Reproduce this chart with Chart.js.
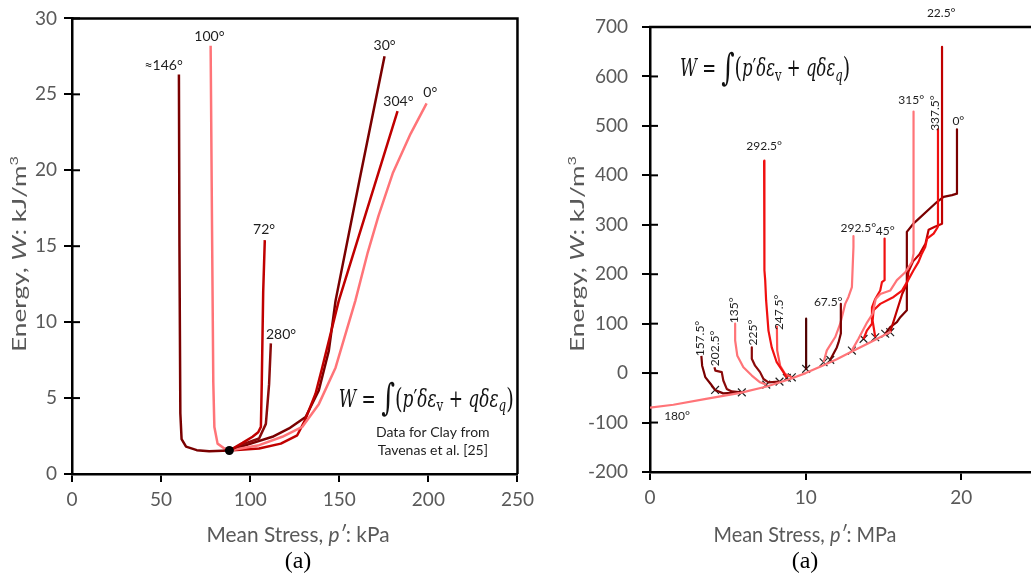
<!DOCTYPE html>
<html>
<head>
<meta charset="utf-8">
<script src="https://cdn.jsdelivr.net/npm/chart.js@4.4.0/dist/chart.umd.min.js"></script>
<style>
html, body { margin:0; padding:0; background:#fff; overflow:hidden; width:1031px; height:577px; }
#wrapA { position:absolute; left:0; top:0; width:540px; height:577px; }
#wrapB { position:absolute; left:560px; top:0; width:580px; height:577px; }
</style>
</head>
<body>
<div id="wrapA"><canvas id="clay" width="540" height="577"></canvas></div>
<div id="wrapB"><canvas id="sand" width="580" height="577"></canvas></div>
<script>
// ---- (a) left: clay, p' in kPa, W in kJ/m3
var clay146X = [88.3, 77, 70, 64, 61.5, 60.8, 60.3, 60.0];
var clay146Y = [1.55, 1.5, 1.57, 1.8, 2.3, 4, 15, 26.3];
var clay100X = [88.3, 85.5, 81.7, 79.9, 79.3, 78.6, 77.8];
var clay100Y = [1.55, 1.68, 2.0, 3.1, 6, 16, 28.2];
var clay72X = [88.3, 95.7, 101.3, 104.5, 106, 106.5, 107.3, 108.2];
var clay72Y = [1.55, 2.05, 2.45, 2.75, 3.1, 6, 12, 15.4];
var clay280X = [88.3, 95.7, 105, 108.8, 110.6, 111.6];
var clay280Y = [1.55, 1.95, 2.34, 3.3, 5.9, 8.6];
var clay30X = [88.3, 100.3, 112.5, 121.8, 131.1, 138.5, 144.1, 147.9, 161.6, 175.4];
var clay30Y = [1.55, 2.0, 2.45, 3.0, 3.75, 5.5, 8.1, 11.4, 19.5, 27.5];
var clay304X = [88.3, 105, 117.2, 126.4, 131, 136.7, 140.4, 149.7, 182.7];
var clay304Y = [1.55, 1.68, 2.0, 2.55, 3.6, 5.3, 7.0, 11.4, 23.9];
var clay0X = [88.3, 105, 118, 129.2, 138.5, 147.9, 159, 166, 172, 180, 190, 199];
var clay0Y = [1.55, 1.9, 2.45, 3.1, 4.6, 7.0, 11.4, 14.6, 17.0, 19.8, 22.4, 24.4];
var clayStartX = [88.3];
var clayStartY = [1.55];

var clayTagText = ['≈146°', '100°', '30°', '304°', '0°', '72°', '280°'];
var clayTagX = [51.4, 77.1, 175.4, 183.2, 201.1, 107.8, 117.3];
var clayTagY = [26.9, 28.8, 28.2, 24.5, 25.1, 16.1, 9.2];

// ---- (a) right: sand, p' in MPa, W in kJ/m3
var sand180X = [0, 1.5, 3.6, 5.8, 7.5, 9.0, 10.0, 11.0, 12.0, 13.0, 14.0, 15.0, 15.5];
var sand180Y = [-70, -64, -52, -40, -27, -12, 0, 14, 28, 44, 60, 76, 84];
var sand157X = [3.3, 3.35, 3.55, 3.9, 4.18, 4.7, 5.9];
var sand157Y = [35, 15, -8, -22, -34, -41, -39];
var sand202X = [4.14, 4.2, 4.61, 4.71, 4.93, 5.25, 5.9];
var sand202Y = [12, 5, 2, -15, -32, -37, -39];
var sand135X = [5.47, 5.47, 5.61, 6.0, 6.54, 7.07, 7.47];
var sand135Y = [100, 66, 35, 12, -5, -18.6, -23.3];
var sand225X = [6.54, 6.54, 6.75, 7.07, 7.29, 7.61, 8.32];
var sand225Y = [52, 29, 15, 2, -12, -18.6, -17.2];
var sand292aX = [7.33, 7.35, 7.40, 7.46, 7.61, 7.82, 8.14, 8.57, 8.79];
var sand292aY = [430, 208, 188, 147, 86, 52, 22, 2, -9.7];
var sand247X = [8.15, 8.17, 8.36, 8.68, 9.11];
var sand247Y = [96, 46, 15, -2, -8.5];
var sandMidX = [10.03, 10.03];
var sandMidY = [110, 8.5];
var sand67X = [12.26, 12.26, 12.11, 12.0, 11.58];
var sand67Y = [140, 80, 62, 52, 27];
var sand292bX = [13.07, 13.07, 12.97, 12.75, 12.54, 12.22, 11.9, 11.36, 11.15];
var sand292bY = [277, 255, 174, 154, 140, 100, 73, 46, 22];
var sand45X = [15.07, 15.07, 14.9, 14.79, 14.47, 14.26, 14.26, 13.93, 13.72];
var sand45Y = [272, 188, 184, 167, 150, 133, 100, 86, 69];
var sand315X = [16.93, 16.93, 16.83, 16.4, 15.86, 15.43, 14.8, 14.5, 14.3, 13.9, 13.4, 12.97];
var sand315Y = [529, 242, 225, 204, 188, 167, 160, 150, 120, 100, 70, 46];
var sand337X = [18.5, 18.5, 18.22, 17.8, 17.68, 17.47, 17.25, 16.93, 16.51, 16.19, 15.65, 14.79, 14.36, 14.3, 14.47];
var sand337Y = [493, 296, 282, 272, 255, 242, 225, 208, 184, 167, 154, 140, 127, 106, 72.6];
var sand22X = [18.76, 18.76, 18.3, 17.9, 17.7, 17.3, 16.9, 16.6, 16.5, 16.2, 15.8, 15.43];
var sand22Y = [660, 302, 296, 290, 262, 240, 226, 205, 180, 160, 120, 83];
var sand0X = [19.72, 19.72, 19.4, 18.86, 18.43, 17.15, 16.93, 16.5, 16.5, 16.08, 15.86, 15.43, 15.11];
var sand0Y = [493, 363, 360, 356.5, 346, 309, 302.6, 285.6, 127, 113, 103, 93, 79.5];
var sandMarkX = [4.18, 5.9, 7.47, 8.32, 8.79, 9.11, 10.03, 11.15, 11.58, 12.97, 13.72, 14.47, 15.11, 15.43];
var sandMarkY = [-34, -39, -23.3, -17.2, -9.7, -8.5, 8.5, 22, 26.8, 45.6, 69.3, 72.6, 79.5, 82.8];

var sandTagText = ['22.5°', '315°', '337.5°', '0°', '292.5°', '292.5°', '45°', '67.5°', '157.5°', '202.5°', '135°', '225°', '247.5°', '180°'];
var sandTagX = [18.71, 16.78, 18.33, 19.81, 7.33, 13.38, 15.11, 11.45, 3.22, 4.18, 5.4, 6.62, 8.3, 1.74];
var sandTagY = [729, 552, 526, 510, 459, 293, 287, 143, 70, 50, 127, 82, 123, -88];
var sandTagTurn = [0, 0, 1, 0, 0, 0, 0, 0, 1, 1, 1, 1, 1, 0];

var DARK = '#7a0000', MAROON = '#8b0a0a', RED = '#c00000', BRIGHT = '#f01010', SALMON = '#ff7478';

function pts(xs, ys) {
  return xs.map(function (v, i) { return { x: v, y: ys[i] }; });
}
function line(xs, ys, col, w) {
  return { data: pts(xs, ys), borderColor: col, backgroundColor: col, borderWidth: w || 2.5,
           showLine: true, pointRadius: 0, tension: 0, fill: false, borderJoinStyle: 'round' };
}

// draw a run of rich text (italics, sub/superscripts)
function runsWidth(ctx, runs, size, fam) {
  var w = 0;
  runs.forEach(function (r) {
    var s = size * (r.scale || 1);
    ctx.font = (r.it ? 'italic ' : '') + s + 'px ' + fam;
    w += ctx.measureText(r.t).width;
  });
  return w;
}
function drawRuns(ctx, runs, cx, cy, size, fam, target, angle, align) {
  ctx.save();
  ctx.translate(cx, cy);
  if (angle) ctx.rotate(angle);
  var w = runsWidth(ctx, runs, size, fam);
  var k = target ? target / w : 1;
  ctx.scale(k, 1);
  var x = align === 'left' ? 0 : -w / 2;
  ctx.textBaseline = 'middle';
  ctx.textAlign = 'left';
  runs.forEach(function (r) {
    var s = size * (r.scale || 1);
    ctx.font = (r.it ? 'italic ' : '') + s + 'px ' + fam;
    ctx.fillText(r.t, x, r.dy ? r.dy * size : 0);
    x += ctx.measureText(r.t).width;
  });
  ctx.restore();
}

var energyRuns = [{ t: 'Energy, ' }, { t: 'W', it: true }, { t: ': kJ/m' }, { t: '3', scale: 0.62, dy: -0.33 }];
var eqRuns = [
  { t: 'W', it: true }, { t: ' = ' }, { t: '\u222B', scale: 1.55 }, { t: '(', scale: 1.15 },
  { t: 'p', it: true }, { t: '\u2032' }, { t: '\u03B4\u03B5', it: true }, { t: 'v', scale: 0.7, dy: 0.28 },
  { t: ' + ' }, { t: 'q\u03B4\u03B5', it: true }, { t: 'q', it: true, scale: 0.7, dy: 0.28 }, { t: ')', scale: 1.15 }
];

function frameAndText(opts) {
  return {
    id: 'frameText',
    afterDraw: function (chart) {
      var ctx = chart.ctx, a = chart.chartArea, xs = chart.scales.x, ys = chart.scales.y;
      ctx.save();
      ctx.strokeStyle = '#000';
      ctx.lineWidth = 2.5;
      ctx.beginPath();
      ctx.moveTo(a.left - 1, a.top);
      ctx.lineTo(a.right, a.top);
      ctx.lineTo(a.right, a.bottom);
      ctx.stroke();
      // inner half of the y ticks
      ctx.lineWidth = 2;
      ys.ticks.forEach(function (t) {
        var py = ys.getPixelForValue(t.value);
        ctx.beginPath();
        ctx.moveTo(a.left, py);
        ctx.lineTo(a.left + 8, py);
        ctx.stroke();
      });
      // curve tags
      ctx.fillStyle = '#1e1e1e';
      for (var i = 0; i < opts.tagText.length; i++) {
        var px = xs.getPixelForValue(opts.tagX[i]);
        var py2 = ys.getPixelForValue(opts.tagY[i]);
        ctx.save();
        ctx.translate(px, py2);
        if (opts.tagTurn && opts.tagTurn[i]) ctx.rotate(-Math.PI / 2);
        ctx.font = opts.tagSize + 'px Lato';
        ctx.textAlign = 'center';
        ctx.textBaseline = 'middle';
        ctx.fillText(opts.tagText[i], 0, 0);
        ctx.restore();
      }
      // equation
      ctx.fillStyle = '#111';
      drawRuns(ctx, eqRuns, xs.getPixelForValue(opts.eqX), ys.getPixelForValue(opts.eqY),
               24, '"DejaVu Serif"', opts.eqW, 0, 'left');
      if (opts.note) {
        ctx.font = '14px Lato';
        ctx.textAlign = 'center';
        ctx.textBaseline = 'middle';
        ctx.fillStyle = '#1e1e1e';
        ctx.fillText(opts.note[0], xs.getPixelForValue(opts.noteX), ys.getPixelForValue(opts.noteY[0]));
        ctx.fillText(opts.note[1], xs.getPixelForValue(opts.noteX), ys.getPixelForValue(opts.noteY[1]));
      }
      // axis titles
      ctx.fillStyle = '#595959';
      drawRuns(ctx, [{ t: 'Mean Stress, ' }, { t: 'p\u2032', it: true }, { t: ': ' + opts.unit }],
               opts.titleX, 535, 21, 'Lato', 183, 0);
      drawRuns(ctx, energyRuns, opts.yTitleX, 254, 19, 'Lato', 196, -Math.PI / 2);
      ctx.fillStyle = '#000';
      drawRuns(ctx, [{ t: '(a)' }], opts.titleX, 562, 24, '"Liberation Serif"', 0, 0);
      if (opts.dots) {
        ctx.fillStyle = '#000';
        ctx.beginPath();
        ctx.arc(xs.getPixelForValue(opts.dots[0]), ys.getPixelForValue(opts.dots[1]), 4.5, 0, Math.PI * 2);
        ctx.fill();
      }
      ctx.restore();
    }
  };
}

function axes(xmin, xmax, xstep, ymin, ymax, ystep, yWidth, xHeight, yPad) {
  var tickFont = { family: 'Lato', size: 19 };
  return {
    x: { type: 'linear', min: xmin, max: xmax,
         ticks: { stepSize: xstep, color: '#595959', font: tickFont, padding: 6, maxRotation: 0 },
         grid: { drawOnChartArea: false, color: '#000', lineWidth: 2, tickLength: 8 },
         border: { color: '#000', width: 2.5 },
         afterFit: function (s) { s.height = xHeight; } },
    y: { type: 'linear', min: ymin, max: ymax,
         ticks: { stepSize: ystep, color: '#595959', font: tickFont, padding: yPad },
         grid: { drawOnChartArea: false, color: '#000', lineWidth: 2, tickLength: 8 },
         border: { color: '#000', width: 2.5 },
         afterFit: function (s) { s.width = yWidth; } }
  };
}

var common = {
  responsive: false, animation: false, devicePixelRatio: 1,
  plugins: { legend: { display: false }, tooltip: { enabled: false } }
};

new Chart(document.getElementById('clay'), {
  type: 'scatter',
  data: { datasets: [
    line(clay146X, clay146Y, DARK),
    line(clay100X, clay100Y, SALMON),
    line(clay72X, clay72Y, RED),
    line(clay280X, clay280Y, MAROON),
    line(clay0X, clay0Y, SALMON),
    line(clay304X, clay304Y, RED),
    line(clay30X, clay30Y, DARK)
  ] },
  options: Object.assign({}, common, {
    layout: { padding: { left: 0, top: 16, right: 20, bottom: 0 } },
    scales: axes(0, 250, 50, 0, 30, 5, 72, 103, 7)
  }),
  plugins: [frameAndText({
    tagText: clayTagText, tagX: clayTagX, tagY: clayTagY, tagSize: 14,
    eqX: 149.7, eqY: 4.85, eqW: 175,
    note: ['Data for Clay from', 'Tavenas et al. [25]'], noteX: 202.5, noteY: [2.75, 1.57],
    unit: 'kPa', titleX: 298, yTitleX: 20,
    dots: [clayStartX[0], clayStartY[0]]
  })]
});

new Chart(document.getElementById('sand'), {
  type: 'scatter',
  data: { datasets: [
    line(sand180X, sand180Y, SALMON, 2.2),
    line(sand157X, sand157Y, DARK, 2.2),
    line(sand202X, sand202Y, MAROON, 2.2),
    line(sand135X, sand135Y, SALMON, 2.2),
    line(sand225X, sand225Y, MAROON, 2.2),
    line(sand292aX, sand292aY, BRIGHT, 2.2),
    line(sand247X, sand247Y, '#ff5050', 2.2),
    line(sandMidX, sandMidY, '#500000', 2.2),
    line(sand67X, sand67Y, DARK, 2.2),
    line(sand292bX, sand292bY, SALMON, 2.2),
    line(sand315X, sand315Y, SALMON, 2.2),
    line(sand45X, sand45Y, BRIGHT, 2.2),
    line(sand337X, sand337Y, BRIGHT, 2.2),
    line(sand22X, sand22Y, RED, 2.2),
    line(sand0X, sand0Y, DARK, 2.2),
    { data: pts(sandMarkX, sandMarkY), pointStyle: 'crossRot', pointRadius: 5.5, borderWidth: 1.2,
      borderColor: '#222', backgroundColor: '#222', showLine: false }
  ] },
  options: Object.assign({}, common, {
    layout: { padding: { left: 0, top: 27, right: 23, bottom: 0 } },
    scales: axes(0, 30, 10, -200, 700, 100, 90, 105, 14)
  }),
  plugins: [frameAndText({
    tagText: sandTagText, tagX: sandTagX, tagY: sandTagY, tagTurn: sandTagTurn, tagSize: 12,
    eqX: 1.93, eqY: 613, eqW: 170,
    unit: 'MPa', titleX: 245, yTitleX: 18
  })]
});
</script>
</body>
</html>
